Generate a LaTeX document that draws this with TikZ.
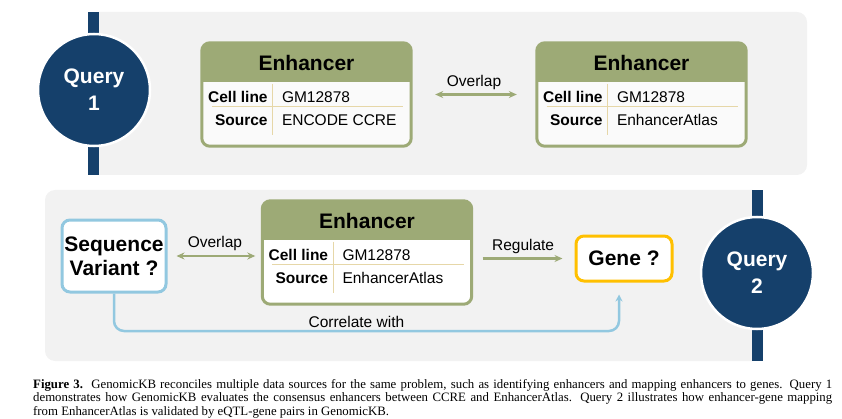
\documentclass[tikz,border=0pt]{standalone}
\usepackage{fontspec}
\setmainfont{Liberation Sans}
\newfontfamily\capfont{Liberation Serif}
\usetikzlibrary{arrows.meta}
\usetikzlibrary{calc}
\definecolor{navy}{RGB}{21, 64, 107}
\definecolor{panel}{RGB}{242, 242, 242}
\definecolor{enhgreen}{RGB}{157, 170, 118}
\definecolor{rule}{RGB}{230, 215, 168}
\definecolor{varblue}{RGB}{146, 200, 224}
\definecolor{genegold}{RGB}{255, 192, 0}
\tikzset{
    query/.style={circle, fill=navy, draw=white, line width=2.5pt, minimum size=112pt,
        inner sep=0pt, text=white, align=center, font=\bfseries\fontsize{21}{27}\selectfont},
    enhbox/.style={rectangle, rounded corners=8pt, minimum width=209pt, minimum height=103pt, inner sep=0pt},
    title/.style={font=\bfseries\fontsize{21}{24}\selectfont},
    key/.style={font=\bfseries\fontsize{15.5}{18}\selectfont, inner sep=0pt},
    val/.style={font=\fontsize{15.5}{18}\selectfont, inner sep=0pt},
    askbox/.style={rectangle, rounded corners=8pt, fill=white, line width=3pt, align=center,
        inner sep=0pt, font=\bfseries\fontsize{21}{24}\selectfont},
    link/.style={enhgreen, line width=2.5pt, -{Stealth[length=8pt, width=7pt]}},
    lbl/.style={text=black, font=\fontsize{15.5}{18}\selectfont, inner sep=1pt},
    capline/.style={anchor=west, inner sep=0pt, font=\capfont\fontsize{12.8}{13.5}\selectfont}
}
\newcommand{\enhancer}[5]{
    % #1 = name
    % #2 = position
    % #3 = cell line
    % #4 = source
    % #5 = fill of the body
    \node[enhbox, fill=#5] (#1) at (#2) {};
    \begin{scope}
        \clip[rounded corners=8pt] (#1.north west) rectangle (#1.south east);
        \fill[enhgreen] (#1.north west) rectangle ([yshift=-39pt]#1.north east);
    \end{scope}
    \draw[enhgreen, line width=3pt, rounded corners=8pt] (#1.north west) rectangle (#1.south east);
    \node[title] (#1-title) at ([yshift=-20pt]#1.north) {Enhancer};
    \draw[rule, line width=1pt] ([xshift=71pt, yshift=-41pt]#1.north west) -- ([xshift=71pt, yshift=11pt]#1.south west);
    \draw[rule, line width=1pt] ([xshift=10pt, yshift=-64pt]#1.north west) -- ([xshift=-8pt, yshift=-64pt]#1.north east);
    \node[key, anchor=east] (#1-k1) at ([xshift=66pt, yshift=-54pt]#1.north west) {Cell line};
    \node[key, anchor=east] (#1-k2) at ([xshift=66pt, yshift=-77pt]#1.north west) {Source};
    \node[val, anchor=west] (#1-v1) at ([xshift=80pt, yshift=-54pt]#1.north west) {#3};
    \node[val, anchor=west] (#1-v2) at ([xshift=80pt, yshift=-77pt]#1.north west) {#4};
}

\begin{document}
\begin{tikzpicture}[x=1pt, y=1pt]

    \useasboundingbox (0,0) rectangle (842,418);

    % Query 1
    \fill[panel, rounded corners=10pt] (88,406) rectangle (807,243);

    \fill[navy] (88,406) rectangle (99,243);

    \node[query] (q1) at (94,328) {Query\\1};

    \enhancer{enhA}{306.5,323.5}{GM12878}{ENCODE CCRE}{white!60!panel}

    \enhancer{enhB}{641.5,323.5}{GM12878}{EnhancerAtlas}{white!60!panel}

    \draw[link, {Stealth[length=8pt, width=7pt]}-{Stealth[length=8pt, width=7pt]}, shorten <=24pt, shorten >=20pt]
        (enhA.east) -- (enhB.west) node[lbl, midway, above=3pt] {Overlap};

    %
    % Query 2
    %

    \fill[panel, rounded corners=10pt] (45,228) rectangle (763,57);

    \fill[navy] (752,228) rectangle (763,57);

    \node[query] (q2) at (757,145) {Query\\2};

    \node[askbox, draw=varblue, minimum width=104pt, minimum height=72pt] (var) at (114,162) {Sequence\\Variant ?};

    \enhancer{enhC}{367,165.5}{GM12878}{EnhancerAtlas}{white}

    \node[askbox, draw=genegold, minimum width=96pt, minimum height=45pt] (gene) at (624,159.5) {Gene ?};

    \draw[link, {Stealth[length=8pt, width=7pt]}-{Stealth[length=8pt, width=7pt]}, shorten <=9pt, shorten >=7pt]
        (var.east) -- (var.east -| enhC.west) node[lbl, midway, above=3pt] {Overlap};

    \draw[link, shorten <=11pt, shorten >=12pt]
        (enhC.east |- gene.west) -- (gene.west) node[lbl, midway, above=3pt] {Regulate};

    \coordinate (corr) at (0,87);

    \draw[varblue, line width=2.5pt, rounded corners=10pt, -{Stealth[length=7pt, width=7pt]}]
        (var.south) |- ([xshift=-5pt]corr -| gene.south) node[lbl, pos=0.74, above=1pt] {Correlate with}
        -- ([xshift=-5pt, yshift=-12pt]gene.south);

    %
    % caption
    %

    \node[capline] (cap1) at (33,33)
        {\hbox to 799pt{\textbf{Figure 3.}\ \ GenomicKB reconciles multiple data sources for the same problem, such as identifying enhancers and mapping enhancers to genes. Query 1}};

    \node[capline] (cap2) at (33,19.5)
        {\hbox to 799pt{demonstrates how GenomicKB evaluates the consensus enhancers between CCRE and EnhancerAtlas. Query 2 illustrates how enhancer-gene mapping}};

    \node[capline] (cap3) at (33,6)
        {from EnhancerAtlas is validated by eQTL-gene pairs in GenomicKB.};

\end{tikzpicture}
\end{document}
